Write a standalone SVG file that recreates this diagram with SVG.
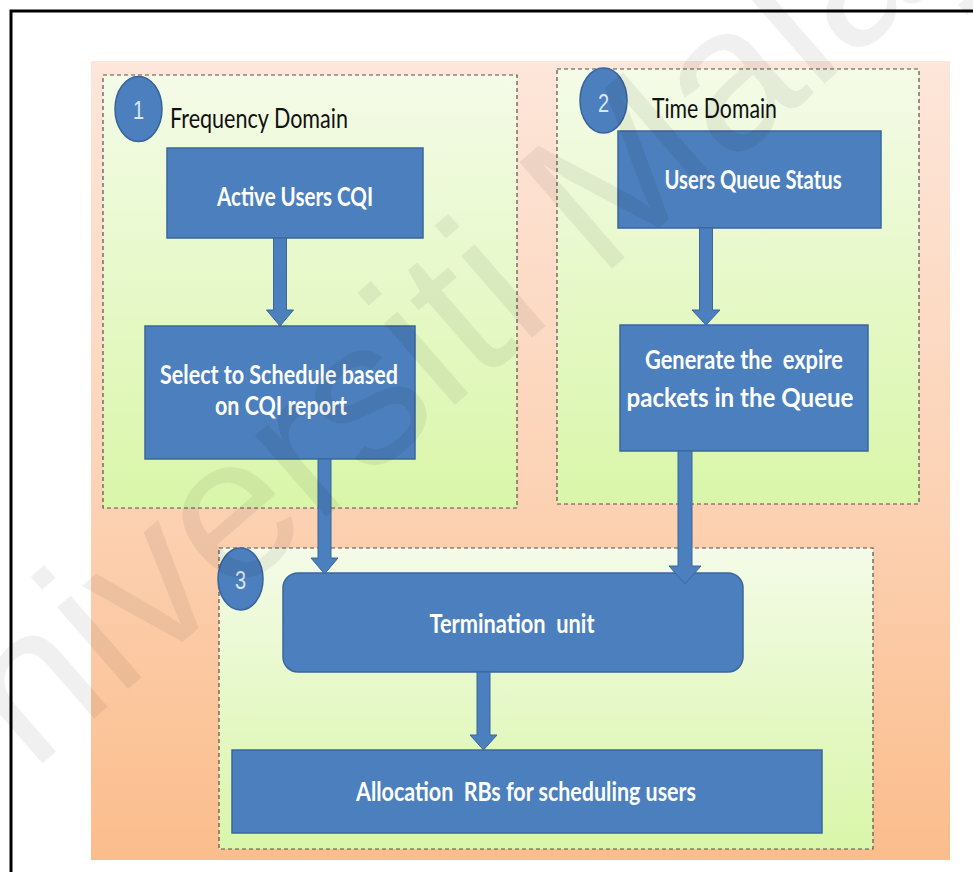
<svg xmlns="http://www.w3.org/2000/svg" width="973" height="872" viewBox="0 0 973 872">
<defs>
<linearGradient id="gOrange" x1="0" y1="0" x2="0" y2="1">
<stop offset="0" stop-color="#fde6da"/>
<stop offset="0.5" stop-color="#fcd4b8"/>
<stop offset="1" stop-color="#fbbd8c"/>
</linearGradient>
<linearGradient id="gGreen" x1="0" y1="0" x2="0" y2="1">
<stop offset="0" stop-color="#f4fbe8"/>
<stop offset="1" stop-color="#d9f6a9"/>
</linearGradient>
</defs>
<style>
.panel{fill:url(#gGreen);stroke:#5b4f4f;stroke-width:1.2;stroke-dasharray:4 3}
.box{fill:#4b7fbd;stroke:#3a679e;stroke-width:1.5}
.badge{fill:#4b7fbd;stroke:#3a639a;stroke-width:1.5}
.lbl{font-family:Lato,"Open Sans","Liberation Sans",sans-serif;font-weight:700;font-size:21px;fill:#ffffff;text-anchor:middle;white-space:pre}
.title{font-family:Lato,"Open Sans","Liberation Sans",sans-serif;font-weight:400;font-size:21px;fill:#111111}
.num{font-family:"Liberation Sans",Arial,sans-serif;font-size:20px;fill:#dce6f2;text-anchor:middle}
.arrow{fill:#4b7fbd;stroke:#3a679e;stroke-width:1}
.wm{font-family:"Liberation Sans",Arial,sans-serif;font-size:205px;fill:#000000;fill-opacity:0.06}
</style>
<rect x="0" y="0" width="973" height="872" fill="#ffffff"/>
<path d="M11,872 V11 H973" fill="none" stroke="#000000" stroke-width="3"/>
<rect x="91" y="61" width="859" height="799" fill="url(#gOrange)"/>

<g id="panel1">
<rect class="panel" x="103" y="75" width="414" height="433"/>
<ellipse class="badge" cx="138.5" cy="109" rx="23.5" ry="32.5"/>
<text class="num" transform="translate(138.5,119) scale(1,1.3)">1</text>
<text class="title" transform="translate(170,128) scale(1,1.3)" textLength="178" lengthAdjust="spacingAndGlyphs">Frequency Domain</text>
</g>
<g id="panel2">
<rect class="panel" x="557" y="69" width="362" height="435"/>
<ellipse class="badge" cx="603.5" cy="100.5" rx="23.5" ry="32.5"/>
<text class="num" transform="translate(603.5,112) scale(1,1.3)">2</text>
<text class="title" transform="translate(652,118) scale(1,1.3)" textLength="125" lengthAdjust="spacingAndGlyphs">Time Domain</text>
</g>
<g id="panel3">
<rect class="panel" x="219" y="548" width="654" height="301"/>
<ellipse class="badge" cx="240.5" cy="579" rx="22.5" ry="31"/>
<text class="num" transform="translate(240.5,589) scale(1,1.3)">3</text>
</g>

<g id="active-users-cqi">
<rect class="box" x="167" y="148" width="256" height="90"/>
<text class="lbl" transform="translate(295,206) scale(1,1.3)" textLength="156" lengthAdjust="spacingAndGlyphs">Active Users CQI</text>
</g>
<g id="select-to-schedule">
<rect class="box" x="145" y="326" width="270" height="133"/>
<text class="lbl" transform="translate(279,384) scale(1,1.3)" textLength="238" lengthAdjust="spacingAndGlyphs">Select to Schedule based</text>
<text class="lbl" transform="translate(281,415) scale(1,1.3)" textLength="132" lengthAdjust="spacingAndGlyphs">on CQI report</text>
</g>
<g id="users-queue-status">
<rect class="box" x="618" y="131" width="263" height="97"/>
<text class="lbl" transform="translate(753,189) scale(1,1.3)" textLength="177" lengthAdjust="spacingAndGlyphs">Users Queue Status</text>
</g>
<g id="generate-expire">
<rect class="box" x="620" y="325" width="248" height="126"/>
<text class="lbl" transform="translate(744,369) scale(1,1.3)" textLength="198" lengthAdjust="spacingAndGlyphs">Generate the  expire</text>
<text class="lbl" transform="translate(740,407) scale(1,1.3)" textLength="227" lengthAdjust="spacingAndGlyphs">packets in the Queue</text>
</g>
<g id="termination-unit">
<rect class="box" x="283" y="573" width="460" height="99" rx="15" ry="15"/>
<text class="lbl" transform="translate(512,633) scale(1,1.3)" textLength="165" lengthAdjust="spacingAndGlyphs">Termination  unit</text>
</g>
<g id="allocation">
<rect class="box" x="232" y="750" width="590" height="83"/>
<text class="lbl" transform="translate(526,801) scale(1,1.3)" textLength="340" lengthAdjust="spacingAndGlyphs">Allocation  RBs for scheduling users</text>
</g>

<g id="connectors">
<polygon class="arrow" points="273.5,238 286.5,238 286.5,310 293.5,310 280,326 266.5,310 273.5,310"/>
<polygon class="arrow" points="318,459 331,459 331,558 338,558 324.5,574 311,558 318,558"/>
<polygon class="arrow" points="699.5,228 712.5,228 712.5,310 720,310 706,325 692,310 699.5,310"/>
<polygon class="arrow" points="678,451 692,451 692,566 701,566 685,584 669,566 678,566"/>
<polygon class="arrow" points="477,672 490,672 490,735 497,735 483.5,750 470,735 477,735"/>
</g>

<text class="wm" transform="translate(-80,870) rotate(-41)">Universiti Malaya</text>
</svg>
